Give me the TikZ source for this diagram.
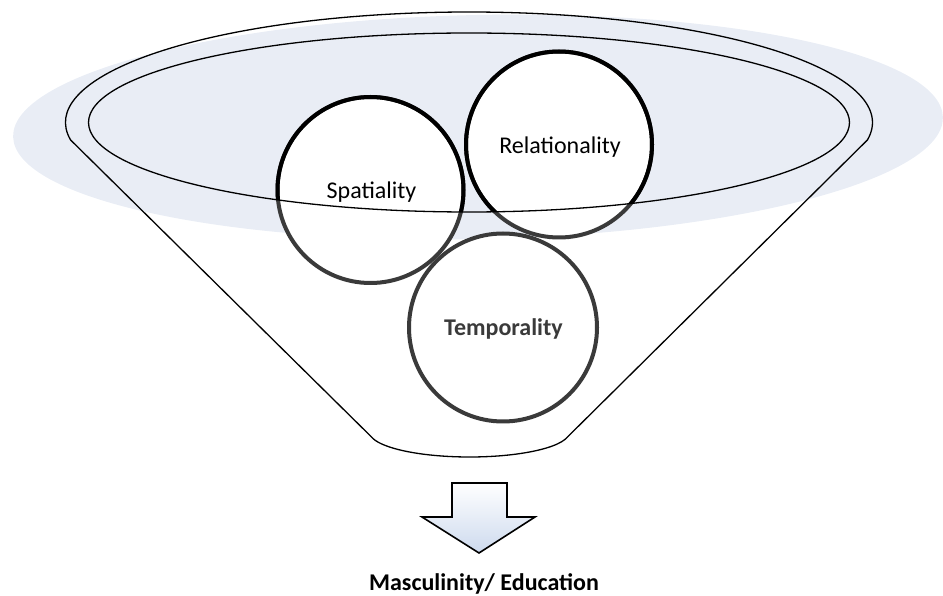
\documentclass[tikz,border=0pt]{standalone}
\usepackage{fontspec}
\setmainfont{Carlito}
\usetikzlibrary{calc,shadows}
\definecolor{shadowc}{RGB}{233,237,245}
\definecolor{ringgray}{RGB}{58,58,58}
\definecolor{arrowlo}{RGB}{205,218,238}
\begin{document}
\begin{tikzpicture}[x=1pt,y=1pt,
  funnelline/.style={draw=black,line width=1.3pt},
  circ/.style={circle,draw=ringgray,fill=white,line width=4pt,minimum size=186pt,inner sep=0pt},
  lbl/.style={font=\fontsize{24}{28}\selectfont,inner sep=0pt,anchor=base},
]
\useasboundingbox (0,0) rectangle (943,595);
% shadow
\fill[shadowc, rotate around={1.2:(478,468)}] (478,468) ellipse[x radius=465, y radius=112];
% funnel outline
\coordinate (O) at (469,472.5);
\coordinate (B) at (469.5,163);
\draw[funnelline,line join=round]
  ($(B)+(191.5:100 and 25)$) -- ($(O)+(189.1:403.5 and 110.5)$)
  arc[start angle=189.1, end angle=-9.1, x radius=403.5, y radius=110.5]
  -- ($(B)+(-11.5:100 and 25)$)
  arc[start angle=-11.5, end angle=-168.5, x radius=100, y radius=25] -- cycle;
% circles
\node[circ] (spat) at (370.5,405) {};
\node[circ] (rel) at (559,450.5) {};
\node[circ,minimum size=188pt] (temp) at (503,267.5) {};
% black part of the strokes inside the top ellipse
\begin{scope}
  \clip (O) ellipse[x radius=380.5, y radius=89.5];
  \draw[black,line width=4pt] (spat.center) circle[radius=93pt];
  \draw[black,line width=4pt] (rel.center) circle[radius=93pt];
\end{scope}
% inner ellipse on top
\draw[funnelline] (O) ellipse[x radius=380.5, y radius=89.5];
% labels
\node[lbl] (spatT) at (371.5,396) {Spatiality};
\node[lbl] (relT) at (560,441.7) {Relationality};
\node[lbl,text=ringgray,font=\fontsize{24}{28}\selectfont\bfseries] (tempT) at (503.5,259) {Temporality};
% arrow
\coordinate (a1) at (452,112);
\coordinate (a2) at (507,112);
\coordinate (a3) at (507,78);
\coordinate (a4) at (535,78);
\coordinate (a5) at (479,42);
\coordinate (a6) at (422,78);
\coordinate (a7) at (452,78);
\fill[black,opacity=0.25,xshift=2pt,yshift=-2pt] (a1) -- (a2) -- (a3) -- (a4) -- (a5) -- (a6) -- (a7) -- cycle;
\draw[line width=1.6pt,line join=miter,top color=white,bottom color=arrowlo]
  (a1) -- (a2) -- (a3) -- (a4) -- (a5) -- (a6) -- (a7) -- cycle;
\node[lbl,font=\fontsize{24}{28}\selectfont\bfseries] (out) at (484,5) {Masculinity/ Education};
\end{tikzpicture}
\end{document}
